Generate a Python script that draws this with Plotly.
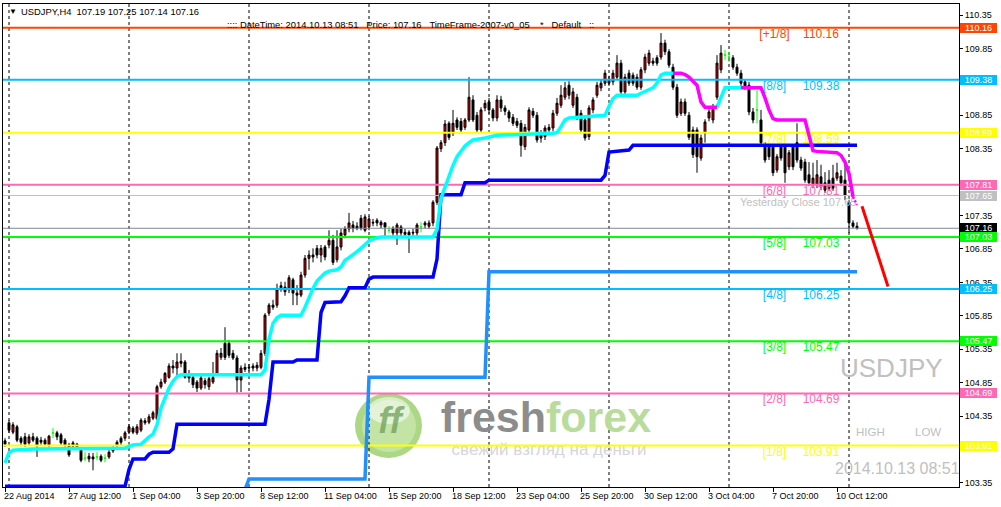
import plotly.graph_objects as go

# ------------------------------------------------------------------ data
bar_index = list(range(5, 219))   # H4 bars, 0 = 22 Aug 2014 00:00

opens = [
103.98, 104.25, 104.11, 104.19, 104.02, 104.04, 103.95, 104.04, 104.02, 103.99,
103.99, 103.92, 104.10, 104.10, 104.07, 103.99, 103.92, 103.95, 103.93, 103.84,
103.72, 103.71, 103.74, 103.74, 103.75, 103.72, 103.74, 103.83, 103.92, 104.02,
104.02, 104.11, 104.17, 104.10, 104.14, 104.28, 104.26, 104.32, 104.31, 104.79,
104.86, 104.93, 105.10, 105.07, 105.17, 105.16, 104.95, 104.93, 104.86, 104.77,
104.88, 104.79, 104.86, 104.99, 105.23, 105.44, 105.44, 105.29, 105.22, 104.89,
105.08, 105.08, 105.10, 105.07, 105.08, 105.29, 105.89, 106.01, 106.01, 106.30,
106.28, 106.24, 106.39, 106.19, 106.16, 106.46, 106.71, 106.76, 106.86, 106.76,
106.88, 106.91, 106.98, 106.69, 106.88, 107.06, 107.15, 107.21, 107.19, 107.31,
107.13, 107.18, 107.25, 107.28, 107.21, 107.24, 107.13, 107.16, 107.09, 107.18,
107.10, 107.10, 107.10, 107.09, 107.18, 107.21, 107.19, 107.24, 107.55, 108.35,
108.44, 108.73, 108.58, 108.78, 108.76, 108.67, 108.78, 109.08, 108.85, 108.63,
108.96, 109.05, 108.93, 108.81, 109.08, 108.96, 108.90, 108.82, 108.76, 108.73,
108.38, 108.63, 108.91, 108.85, 108.51, 108.53, 108.67, 108.66, 108.88, 109.00,
109.12, 109.30, 109.00, 109.12, 108.88, 108.78, 108.53, 108.93, 109.15, 109.26,
109.33, 109.33, 109.35, 109.42, 109.63, 109.20, 109.48, 109.45, 109.42, 109.27,
109.53, 109.63, 109.66, 109.71, 109.72, 109.93, 109.80, 109.57, 109.27, 108.88,
109.05, 108.85, 108.63, 108.63, 108.21, 108.58, 108.81, 108.78, 109.12, 109.53,
109.75, 109.72, 109.71, 109.57, 109.48, 109.35, 109.30, 108.90, 108.93, 108.78,
108.41, 108.38, 108.38, 108.03, 108.38, 108.38, 108.08, 108.38, 108.44, 108.18,
108.15, 107.96, 107.81, 107.81, 107.93, 107.73, 107.88, 107.91, 107.91, 107.94,
107.88, 107.55, 107.24, 107.19]

highs = [
104.02, 104.29, 104.26, 104.22, 104.05, 104.10, 104.08, 104.10, 104.05, 104.04,
104.02, 104.07, 104.17, 104.13, 104.10, 104.02, 103.95, 103.98, 103.95, 103.89,
103.81, 103.80, 103.80, 103.81, 103.78, 103.78, 103.84, 103.90, 103.99, 104.05,
104.13, 104.23, 104.20, 104.23, 104.32, 104.32, 104.38, 104.43, 104.82, 104.91,
105.01, 105.14, 105.19, 105.29, 105.29, 105.19, 105.04, 104.96, 104.89, 104.96,
104.92, 104.94, 105.16, 105.34, 105.37, 105.68, 105.49, 105.34, 105.26, 105.11,
105.14, 105.13, 105.14, 105.16, 105.34, 105.89, 106.04, 106.09, 106.33, 106.36,
106.36, 106.46, 106.42, 106.31, 106.51, 106.76, 106.83, 106.86, 106.91, 106.91,
106.91, 107.13, 107.06, 107.13, 107.15, 107.19, 107.39, 107.27, 107.25, 107.36,
107.37, 107.34, 107.30, 107.31, 107.28, 107.25, 107.19, 107.19, 107.24, 107.21,
107.15, 107.13, 107.15, 107.24, 107.25, 107.27, 107.28, 107.58, 108.39, 108.48,
108.78, 108.76, 108.93, 108.82, 108.81, 108.81, 109.42, 109.15, 108.90, 108.97,
109.08, 109.11, 108.96, 109.15, 109.14, 109.00, 108.93, 108.87, 108.81, 108.78,
108.72, 108.97, 108.96, 108.90, 108.63, 108.70, 108.72, 108.93, 109.11, 109.30,
109.35, 109.36, 109.26, 109.17, 108.93, 108.82, 109.00, 109.12, 109.35, 109.38,
109.53, 109.44, 109.53, 109.75, 109.68, 109.47, 109.53, 109.49, 109.47, 109.57,
109.77, 109.83, 109.71, 109.75, 110.08, 109.98, 109.84, 109.62, 109.32, 109.10,
109.10, 108.90, 108.68, 108.67, 108.56, 108.79, 108.96, 109.02, 109.75, 109.90,
109.83, 109.80, 109.75, 109.62, 109.53, 109.39, 109.35, 108.96, 109.23, 108.93,
108.45, 108.42, 108.42, 108.27, 108.42, 108.42, 108.33, 108.42, 108.73, 108.23,
108.20, 108.15, 108.14, 108.18, 108.11, 108.00, 108.03, 108.11, 108.14, 108.03,
108.14, 107.58, 107.28, 107.25]

lows = [
103.89, 104.10, 104.08, 103.96, 103.90, 103.89, 103.92, 103.96, 103.74, 103.92,
103.90, 103.89, 104.02, 103.99, 103.92, 103.89, 103.74, 103.87, 103.84, 103.66,
103.68, 103.66, 103.54, 103.69, 103.66, 103.66, 103.71, 103.80, 103.87, 103.92,
103.98, 104.08, 104.08, 104.07, 104.11, 104.22, 104.23, 104.29, 104.29, 104.76,
104.83, 104.91, 104.99, 104.93, 105.08, 104.91, 104.85, 104.77, 104.71, 104.74,
104.76, 104.74, 104.83, 104.95, 105.19, 105.19, 105.22, 105.19, 104.70, 104.71,
105.01, 105.02, 105.02, 105.02, 105.05, 105.25, 105.85, 105.94, 105.97, 106.21,
106.15, 106.19, 106.01, 106.01, 106.13, 106.42, 106.54, 106.65, 106.71, 106.65,
106.68, 106.86, 106.61, 106.65, 106.83, 107.01, 107.10, 107.10, 107.13, 107.13,
107.10, 107.13, 107.19, 107.19, 107.16, 107.01, 107.09, 107.04, 106.91, 107.04,
107.04, 106.79, 107.04, 107.04, 107.10, 107.16, 107.15, 107.19, 107.51, 108.30,
108.39, 108.48, 108.54, 108.63, 108.58, 108.63, 108.75, 108.75, 108.60, 108.60,
108.91, 108.87, 108.76, 108.76, 108.90, 108.85, 108.75, 108.69, 108.66, 108.23,
108.33, 108.60, 108.81, 108.44, 108.44, 108.48, 108.60, 108.61, 108.84, 108.96,
109.08, 109.09, 108.96, 108.78, 108.58, 108.47, 108.48, 108.88, 109.11, 109.21,
109.29, 109.29, 109.30, 109.38, 109.15, 109.15, 109.29, 109.29, 109.23, 109.23,
109.48, 109.59, 109.59, 109.59, 109.68, 109.75, 109.56, 109.23, 108.81, 108.84,
108.84, 108.48, 108.21, 107.99, 108.17, 108.44, 108.76, 108.73, 109.08, 109.48,
109.68, 109.65, 109.53, 109.44, 109.29, 109.23, 108.85, 108.73, 108.73, 108.39,
108.14, 108.18, 107.94, 107.99, 108.17, 107.84, 108.03, 108.03, 108.14, 108.02,
107.84, 107.79, 107.76, 107.76, 107.73, 107.69, 107.72, 107.72, 107.87, 107.79,
107.58, 107.09, 107.16, 107.14]

closes = [
103.93, 104.14, 104.22, 103.99, 103.96, 103.93, 104.04, 103.99, 103.92, 103.96,
103.93, 104.05, 104.10, 104.04, 103.95, 103.92, 103.77, 103.90, 103.89, 103.69,
103.72, 103.75, 103.71, 103.74, 103.69, 103.72, 103.81, 103.86, 103.96, 103.96,
104.10, 104.19, 104.11, 104.19, 104.29, 104.25, 104.34, 104.40, 104.79, 104.86,
104.99, 105.10, 105.07, 105.16, 105.14, 104.93, 104.92, 104.82, 104.77, 104.92,
104.82, 104.91, 104.93, 105.29, 105.29, 105.23, 105.26, 105.22, 104.89, 105.07,
105.05, 105.07, 105.07, 105.11, 105.29, 105.86, 106.01, 105.98, 106.24, 106.27,
106.21, 106.42, 106.19, 106.16, 106.46, 106.71, 106.76, 106.73, 106.76, 106.86,
106.73, 106.98, 106.65, 106.88, 107.09, 107.15, 107.24, 107.16, 107.16, 107.16,
107.33, 107.30, 107.24, 107.24, 107.25, 107.18, 107.13, 107.09, 107.21, 107.09,
107.07, 107.06, 107.09, 107.21, 107.18, 107.24, 107.24, 107.55, 108.36, 108.44,
108.72, 108.52, 108.73, 108.67, 108.63, 108.78, 109.12, 108.78, 108.63, 108.93,
109.03, 108.93, 108.81, 109.08, 108.96, 108.91, 108.81, 108.73, 108.70, 108.40,
108.67, 108.93, 108.85, 108.48, 108.58, 108.66, 108.63, 108.88, 109.03, 109.15,
109.26, 109.15, 109.20, 108.82, 108.63, 108.51, 108.96, 109.08, 109.30, 109.33,
109.48, 109.38, 109.48, 109.63, 109.20, 109.42, 109.33, 109.33, 109.27, 109.53,
109.72, 109.78, 109.63, 109.63, 109.93, 109.80, 109.60, 109.27, 108.85, 109.05,
108.88, 108.52, 108.26, 108.23, 108.51, 108.75, 108.90, 108.97, 109.63, 109.78,
109.75, 109.72, 109.57, 109.48, 109.33, 109.27, 108.90, 108.78, 108.93, 108.44,
108.18, 108.23, 107.99, 108.23, 108.21, 107.99, 108.29, 108.08, 108.18, 108.06,
107.88, 107.84, 107.91, 107.96, 107.78, 107.84, 107.76, 107.76, 107.99, 107.84,
107.65, 107.24, 107.19, 107.16]

# trend indicator lines (bar index -> price)
blue_idx = [5, 35, 36, 37, 40, 41, 42, 46, 47, 48, 70, 71, 72, 77, 78, 83, 84, 85, 89, 90,
            91, 95, 96, 97, 112, 113, 114, 119, 120, 125, 126, 154, 155, 156, 161, 162, 218]
blue_val = [103.30, 103.30, 103.55, 103.71, 103.71, 103.78, 103.81, 103.81, 103.86, 104.23,
            104.23, 104.60, 105.16, 105.16, 105.19, 105.19, 105.90, 106.05, 106.06, 106.15,
            106.27, 106.27, 106.40, 106.43, 106.43, 106.70, 107.66, 107.66, 107.84, 107.84,
            107.88, 107.88, 107.95, 108.30, 108.33, 108.40, 108.40]

cyan_idx = [5, 6, 7, 12, 35, 36, 37, 39, 40, 41, 42, 43, 44, 45, 46, 47, 48, 49, 69, 70,
            71, 72, 73, 74, 79, 80, 81, 82, 83, 84, 85, 86, 87, 88, 89, 90, 91, 92, 93, 94,
            95, 96, 97, 98, 99, 112, 113, 114, 115, 116, 117, 118, 119, 120, 121, 122, 125, 128, 142, 143,
            144, 145, 146, 155, 156, 157, 158, 163, 164, 165, 166, 167, 168, 169, 170, 172]
cyan_val = [103.65, 103.80, 103.84, 103.86, 103.87, 103.89, 103.92, 103.93, 103.99, 104.04,
            104.08, 104.22, 104.47, 104.62, 104.77, 104.87, 104.94, 104.97, 104.97, 105.04,
            105.50, 105.74, 105.82, 105.86, 105.86, 105.98, 106.13, 106.26, 106.37, 106.43,
            106.49, 106.52, 106.53, 106.54, 106.58, 106.68, 106.72, 106.76, 106.81, 106.86,
            106.92, 106.97, 107.00, 107.02, 107.03, 107.03, 107.14, 107.61, 107.78, 107.93,
            108.10, 108.23, 108.31, 108.39, 108.44, 108.48, 108.51, 108.55, 108.58, 108.59,
            108.68, 108.78, 108.81, 108.85, 108.98, 109.10, 109.15, 109.15, 109.18, 109.21,
            109.24, 109.26, 109.33, 109.45, 109.48, 109.48]
cyan2_idx = [183, 184, 185, 189]
cyan2_val = [108.97, 109.10, 109.26, 109.26]

magenta1_idx = [172, 174, 175, 176, 177, 178, 179, 180, 183]
magenta1_val = [109.48, 109.48, 109.46, 109.42, 109.36, 109.30, 109.05, 108.97, 108.97]
magenta2_idx = [189, 194, 195, 196, 197, 198, 205, 206, 207, 208, 213, 214, 215, 216, 217]
magenta2_val = [109.26, 109.26, 109.11, 108.93, 108.80, 108.78, 108.78, 108.55, 108.32, 108.31,
                108.29, 108.25, 108.15, 107.98, 107.63]
magenta_tail_idx = [217, 218]
magenta_tail_val = [107.63, 107.51]

dodger_idx = [65, 66, 95, 96, 125, 126, 218]
dodger_val = [103.25, 103.41, 103.41, 104.93, 104.93, 106.51, 106.51]

forecast_idx = [219.25, 225.75]
forecast_val = [107.49, 106.29]

murrey_names = ["[+1/8]", "[8/8]", "[7/8]", "[6/8]", "[5/8]", "[4/8]", "[3/8]", "[2/8]", "[1/8]"]
murrey_levels = [110.16, 109.38, 108.59, 107.81, 107.03, 106.25, 105.47, 104.69, 103.91]
yesterday_close = 107.65
last_price = 107.16
header_ohlc = [107.19, 107.25, 107.14, 107.16]

week_start_idx = [6, 36, 66, 96, 126, 156, 186, 216]
time_tick_idx = [5, 21, 37, 53, 69, 85, 101, 117, 133, 149, 165, 181, 197, 213]
time_tick_labels = ["22 Aug 2014", "27 Aug 12:00", "1 Sep 04:00", "3 Sep 20:00", "8 Sep 12:00",
                    "11 Sep 04:00", "15 Sep 20:00", "18 Sep 12:00", "23 Sep 04:00", "25 Sep 20:00",
                    "30 Sep 12:00", "3 Oct 04:00", "7 Oct 20:00", "10 Oct 12:00"]
# visible price scale labels (103.85, 107.85 and 109.35 sit under the level boxes)
price_tick_labels = ["103.35", "104.35", "104.85", "105.35", "105.85", "106.35",
                     "106.85", "107.35", "108.35", "108.85", "109.85", "110.35"]

# ------------------------------------------------------------------ styles / geometry
murrey_colors = ["#FF4500", "#00BFFF", "#FFFF00", "#FF69B4", "#00FF00",
                 "#00BFFF", "#00FF00", "#FF69B4", "#FFFF00"]
FONT = "Liberation Sans, Arial, sans-serif"
W, H = 1001, 507
PL, PT, PW, PH = 3, 4, 956, 483
x_range = [4.5, 243.5]
y_range = [103.29, 110.5145]


def px_x(px):
    return x_range[0] + (px - PL) * (x_range[1] - x_range[0]) / PW


def px_y(py):
    return y_range[1] - (py - PT) * (y_range[1] - y_range[0]) / PH


def paper_x(px):
    return (px - PL) / PW


def paper_y(py):
    return (PT + PH - py) / PH


PX_PRICE = (y_range[1] - y_range[0]) / PH

fig = go.Figure()

# ---- watermark text (behind everything)
fig.add_trace(go.Scatter(
    x=[px_x(390)], y=[px_y(424)], mode="text", text=["<b><i>ff</i></b>"],
    textfont=dict(family=FONT, size=36, color="rgba(110,160,90,0.75)"),
    textposition="middle center", hoverinfo="skip", showlegend=False))
fig.add_trace(go.Scatter(
    x=[px_x(546)], y=[px_y(421)], mode="text",
    text=["<b><span style='color:#8c8c8c'>fresh</span><span style='color:#b9dc9c'>forex</span></b>"],
    textfont=dict(family=FONT, size=43, color="#8c8c8c"),
    textposition="middle center", hoverinfo="skip", showlegend=False))
fig.add_trace(go.Scatter(
    x=[px_x(549)], y=[px_y(451)], mode="text", text=["свежий взгляд на деньги"],
    textfont=dict(family=FONT, size=17, color="#d6d6d6"),
    textposition="middle center", hoverinfo="skip", showlegend=False))

# ---- info texts
fig.add_trace(go.Scatter(
    x=[px_x(774.5)] * len(murrey_levels), y=[v - 7 * PX_PRICE for v in murrey_levels],
    mode="text", text=murrey_names, textfont=dict(family=FONT, size=12, color=murrey_colors),
    textposition="middle center", hoverinfo="skip", showlegend=False))
fig.add_trace(go.Scatter(
    x=[px_x(821)] * len(murrey_levels), y=[v - 7 * PX_PRICE for v in murrey_levels],
    mode="text", text=[f"{v:.2f}" for v in murrey_levels],
    textfont=dict(family=FONT, size=12, color=murrey_colors),
    textposition="middle center", hoverinfo="skip", showlegend=False))
fig.add_trace(go.Scatter(
    x=[px_x(740)], y=[yesterday_close - 8 * PX_PRICE], mode="text",
    text=[f"Yesterday Close {yesterday_close:.2f}"],
    textfont=dict(family=FONT, size=11, color="#c0c0c0"),
    textposition="middle right", hoverinfo="skip", showlegend=False))
fig.add_trace(go.Scatter(
    x=[px_x(840), px_x(856), px_x(915), px_x(835)],
    y=[px_y(370), px_y(433), px_y(433), px_y(470)], mode="text",
    text=["USDJPY", "HIGH", "LOW", "2014.10.13 08:51"],
    textfont=dict(family=FONT, size=[26, 11.5, 11.5, 16], color="#c0c0c0"),
    textposition="middle right", hoverinfo="skip", showlegend=False))

# ---- level lines (below candles)
for lvl, col in zip(murrey_levels, murrey_colors):
    fig.add_trace(go.Scatter(x=x_range, y=[lvl, lvl], mode="lines",
                             line=dict(color=col, width=2), hoverinfo="skip", showlegend=False))
fig.add_trace(go.Scatter(x=x_range, y=[yesterday_close] * 2, mode="lines",
                         line=dict(color="#c0c0c0", width=1), hoverinfo="skip", showlegend=False))
fig.add_trace(go.Scatter(x=x_range, y=[last_price] * 2, mode="lines",
                         line=dict(color="#7f8a94", width=1), hoverinfo="skip", showlegend=False))

# ---- candles
doji = [i for i in range(len(bar_index)) if opens[i] == closes[i]]
body = [i for i in range(len(bar_index)) if opens[i] != closes[i]]


def pick(arr, ids):
    return [arr[i] for i in ids]


fig.add_trace(go.Candlestick(
    x=pick(bar_index, body), open=pick(opens, body), high=pick(highs, body),
    low=pick(lows, body), close=pick(closes, body),
    increasing=dict(fillcolor="#E00000", line=dict(color="black", width=1)),
    decreasing=dict(fillcolor="black", line=dict(color="black", width=1)),
    hoverinfo="skip", showlegend=False))
fig.add_trace(go.Candlestick(
    x=pick(bar_index, doji), open=pick(opens, doji), high=pick(highs, doji),
    low=pick(lows, doji), close=pick(closes, doji),
    increasing=dict(fillcolor="#00FF00", line=dict(color="#00FF00", width=1)),
    decreasing=dict(fillcolor="#00FF00", line=dict(color="#00FF00", width=1)),
    hoverinfo="skip", showlegend=False))

# ---- indicator lines
fig.add_trace(go.Scatter(x=dodger_idx, y=dodger_val, mode="lines",
                         line=dict(color="#1E90FF", width=3.5), hoverinfo="skip", showlegend=False))
fig.add_trace(go.Scatter(x=blue_idx, y=blue_val, mode="lines",
                         line=dict(color="#0000FF", width=3.5), hoverinfo="skip", showlegend=False))
fig.add_trace(go.Scatter(x=cyan_idx, y=cyan_val, mode="lines",
                         line=dict(color="#00FFFF", width=3.5), hoverinfo="skip", showlegend=False))
fig.add_trace(go.Scatter(x=cyan2_idx, y=cyan2_val, mode="lines",
                         line=dict(color="#00FFFF", width=3.5), hoverinfo="skip", showlegend=False))
fig.add_trace(go.Scatter(x=magenta1_idx, y=magenta1_val, mode="lines",
                         line=dict(color="#FF00FF", width=3.5), hoverinfo="skip", showlegend=False))
fig.add_trace(go.Scatter(x=magenta2_idx, y=magenta2_val, mode="lines",
                         line=dict(color="#FF00FF", width=3.5), hoverinfo="skip", showlegend=False))
fig.add_trace(go.Scatter(x=magenta_tail_idx, y=magenta_tail_val, mode="lines",
                         line=dict(color="#FF00FF", width=2.5, dash="2px,2px"),
                         hoverinfo="skip", showlegend=False))
fig.add_trace(go.Scatter(x=forecast_idx, y=forecast_val, mode="lines",
                         line=dict(color="#FF0000", width=3), hoverinfo="skip", showlegend=False))

# ---- shapes: logo badge + weekly separators
shapes = [
    dict(type="circle", xref="paper", yref="paper", layer="below",
         x0=paper_x(355), x1=paper_x(422), y0=paper_y(458), y1=paper_y(393),
         fillcolor="#acd885", line=dict(width=0)),
    dict(type="circle", xref="paper", yref="paper", layer="below",
         x0=paper_x(362), x1=paper_x(416), y0=paper_y(452), y1=paper_y(400),
         fillcolor="#c4e4a6", line=dict(width=0)),
    dict(type="circle", xref="paper", yref="paper", layer="below",
         x0=paper_x(368), x1=paper_x(410), y0=paper_y(424), y1=paper_y(397),
         fillcolor="rgba(255,255,255,0.55)", line=dict(width=0)),
]
for wi in week_start_idx:
    shapes.append(dict(type="line", xref="x", yref="paper", layer="below",
                       x0=wi, x1=wi, y0=0, y1=1,
                       line=dict(color="black", width=1, dash="3px,3px")))

# ---- annotations
ann = []
ann.append(dict(xref="paper", yref="paper", x=paper_x(7), y=paper_y(12), xanchor="left",
                yanchor="middle", text="▼", showarrow=False,
                font=dict(family=FONT, size=8, color="black")))
nb = "\u00a0"
ann.append(dict(xref="paper", yref="paper", x=paper_x(19), y=paper_y(12), xanchor="left",
                yanchor="middle", showarrow=False,
                text="USDJPY,H4" + nb * 2 + " ".join(f"{v:.2f}" for v in header_ohlc),
                font=dict(family=FONT, size=9.4, color="black")))
ann.append(dict(xref="paper", yref="paper", x=paper_x(225), y=paper_y(25), xanchor="left",
                yanchor="middle", showarrow=False,
                text=":::: DateTime: 2014.10.13 08:51" + nb * 3 + f"Price: {last_price:.2f}" + nb * 3
                     + "TimeFrame-2007-v0_05" + nb * 4 + "*" + nb * 3 + "Default" + nb * 3 + "::",
                font=dict(family=FONT, size=9.4, color="black")))

for xi, lab in zip(time_tick_idx, time_tick_labels):
    ann.append(dict(xref="x", yref="paper", x=xi, y=0, xanchor="left", yanchor="top",
                    xshift=-3, yshift=-2, text=lab, showarrow=False,
                    font=dict(family=FONT, size=9, color="black")))

box_vals = murrey_levels[:4] + [yesterday_close, last_price] + murrey_levels[4:]
box_cols = murrey_colors[:4] + ["#C0C0C0", "#000000"] + murrey_colors[4:]
for v, c in zip(box_vals, box_cols):
    ann.append(dict(xref="paper", yref="y", x=1, y=v, xanchor="left", yanchor="middle",
                    xshift=1, text=f"{v:.2f}", showarrow=False, bgcolor=c,
                    width=37, height=10, borderpad=0, borderwidth=0, align="center",
                    font=dict(family=FONT, size=9, color="white")))

fig.update_layout(
    width=W, height=H, autosize=False,
    margin=dict(l=PL, r=W - PL - PW, t=PT, b=H - PT - PH, autoexpand=False),
    paper_bgcolor="white", plot_bgcolor="white",
    showlegend=False, shapes=shapes, annotations=ann,
    xaxis=dict(range=x_range, showgrid=False, zeroline=False, showline=True, linecolor="black",
               linewidth=1, mirror=True, ticks="outside", ticklen=4, tickcolor="black",
               tickvals=time_tick_idx, showticklabels=False,
               rangeslider=dict(visible=False), fixedrange=True),
    yaxis=dict(range=y_range, side="right", showgrid=False, zeroline=False, showline=True,
               linecolor="black", linewidth=1, mirror=True, ticks="outside", ticklen=3,
               tickcolor="black", tickvals=[float(t) for t in price_tick_labels],
               ticktext=price_tick_labels, tickfont=dict(family=FONT, size=9, color="black"),
               fixedrange=True),
)

fig.write_html("out.html", config={"displayModeBar": False},
               post_script="document.body.style.margin='0px';document.body.style.padding='0px';")
